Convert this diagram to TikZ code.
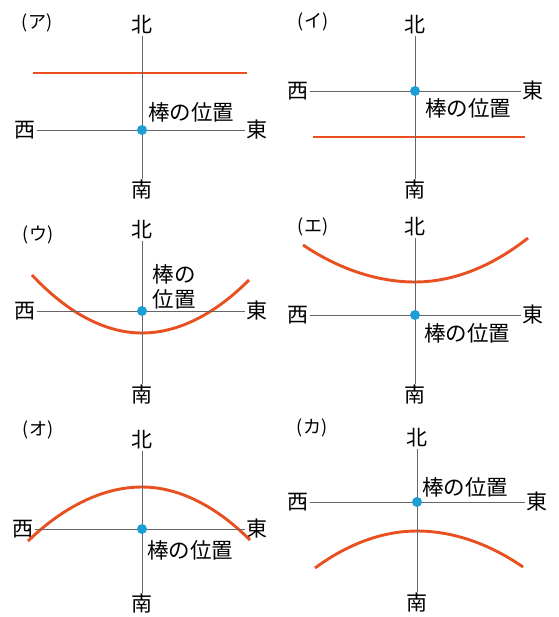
\documentclass[tikz,border=0pt]{standalone}
\usepackage{fontspec}
\setmainfont{Noto Sans CJK JP}
\usetikzlibrary{calc}

\definecolor{shadowred}{RGB}{232,80,32}
\definecolor{poleblue}{RGB}{30,158,215}

\tikzset{
  dir/.style={inner sep=1pt,font=\fontsize{21}{22}\selectfont},
  tag/.style={inner sep=0pt,font=\fontsize{18}{19}\selectfont},
  polelabel/.style={inner sep=0pt,font=\fontsize{21.5}{25}\selectfont},
  axis/.style={draw=black!60,line width=0.8pt},
  shadow/.style={draw=shadowred,line width=2.9pt},
  pole/.style={circle,fill=poleblue,inner sep=0pt,minimum size=10pt},
}

\begin{document}
\begin{tikzpicture}[x=1pt,y=-1pt]
\useasboundingbox (0,0) rectangle (558,617);

% (ア)
\node[tag] (ta) at (37,23) {(ア)};
\node[dir] (na) at (142,25) {北};
\node[dir] (sa) at (142,190) {南};
\node[dir] (wa) at (25,130) {西};
\node[dir] (ea) at (257,130) {東};
\draw[shadow] (33,73) -- (247,73);
\draw[axis] (na) -- (sa);
\draw[axis] (wa) -- (ea);
\node[pole] (pa) at (142,130) {};
\node[polelabel] (la) at (191,112) {棒の位置};

% (イ)
\node[tag] (tb) at (313,22) {(イ)};
\node[dir] (nb) at (415,25) {北};
\node[dir] (sb) at (415,190) {南};
\node[dir] (wb) at (298,91) {西};
\node[dir] (eb) at (533,91) {東};
\draw[shadow] (313,137) -- (525,137);
\draw[axis] (nb) -- (sb);
\draw[axis] (wb) -- (eb);
\node[pole] (pb) at (415,91) {};
\node[polelabel] (lb) at (468,108) {棒の位置};

% (ウ)
\node[tag] (tc) at (38,235) {(ウ)};
\node[dir] (nc) at (142,230) {北};
\node[dir] (sc) at (142,395) {南};
\node[dir] (wc) at (25,311) {西};
\node[dir] (ec) at (257,311) {東};
\draw[shadow] (32,275) parabola bend (142,333) (249,280);
\draw[axis] (nc) -- (sc);
\draw[axis] (wc) -- (ec);
\node[pole] (pc) at (142,311) {};
\node[polelabel,align=center] (lc) at (174,287) {棒の\\位置};

% (エ)
\node[tag] (td) at (313,227) {(エ)};
\node[dir] (nd) at (415,227) {北};
\node[dir] (sd) at (415,395) {南};
\node[dir] (wd) at (298,315) {西};
\node[dir] (ed) at (533,315) {東};
\draw[shadow] (303,245) parabola bend (415,282) (528,238);
\draw[axis] (nd) -- (sd);
\draw[axis] (wd) -- (ed);
\node[pole] (pd) at (415,315) {};
\node[polelabel] (ld) at (467,333) {棒の位置};

% (オ)
\node[tag] (te) at (38,430) {(オ)};
\node[dir] (ne) at (142,440) {北};
\node[dir] (se) at (142,604) {南};
\node[dir] (we) at (23,529) {西};
\node[dir] (ee) at (257,529) {東};
\draw[shadow] (28,541) parabola bend (142,487) (250,540);
\draw[axis] (ne) -- (se);
\draw[axis] (we) -- (ee);
\node[pole] (pe) at (142,529) {};
\node[polelabel] (le) at (190,550) {棒の位置};

% (カ)
\node[tag] (tf) at (312,428) {(カ)};
\node[dir] (nf) at (417,438) {北};
\node[dir] (sf) at (417,603) {南};
\node[dir] (wf) at (298,502) {西};
\node[dir] (ef) at (537,502) {東};
\draw[shadow] (315,568) parabola bend (417,531) (523,567);
\draw[axis] (nf) -- (sf);
\draw[axis] (wf) -- (ef);
\node[pole] (pf) at (417,502) {};
\node[polelabel] (lf) at (465,487) {棒の位置};
\end{tikzpicture}
\end{document}
